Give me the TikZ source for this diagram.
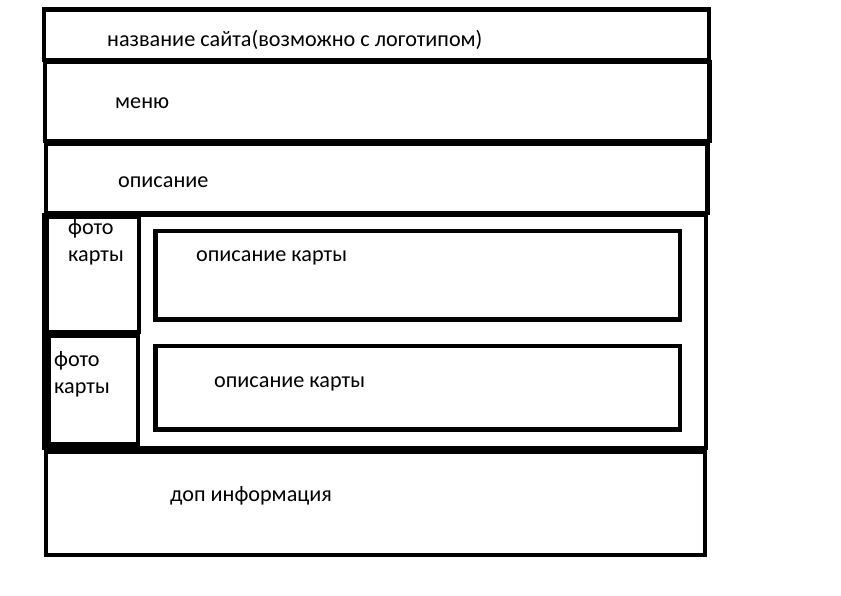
\documentclass[tikz,border=0pt]{standalone}
\usepackage{fontspec}
\setmainfont{Carlito}
\usetikzlibrary{positioning}
\begin{document}
\begin{tikzpicture}[x=1pt,y=-1pt]
% --- Layout & Styles --------------------------------------
\tikzstyle{block}=[draw=black,line width=4.5pt]
\tikzstyle{caption}=[anchor=base west,inner sep=0,font=\fontsize{22.2}{22}\selectfont]
\useasboundingbox (0,0) rectangle (841,595);
% --- Blocks -----------------------------------------------
\draw [block] (44,9.5) rectangle (709,60);
\draw [block] (45,62) rectangle (709.5,141);
\draw [block] (46,143.5) rectangle (707.5,213);
\draw [block] (44.5,215) rectangle (706,448);
\draw [block] (46.5,217) rectangle (139,332);
\draw [block] (49,336) rectangle (138,444);
\draw [block] (155.5,231) rectangle (680,319.5);
\draw [block] (155.5,346) rectangle (680,429.5);
\draw [block] (46,452) rectangle (705,555);
% --- Texts ------------------------------------------------
\node (title) [caption] at (107,46) {название сайта(возможно с логотипом)};
\node (menu) [caption] at (115,108) {меню};
\node (descr) [caption] at (118,187) {описание};
\node (photo1) [caption] at (68,234) {фото};
\node (photo1b) [caption] at (68,261) {карты};
\node (card1) [caption] at (196,261) {описание карты};
\node (photo2) [caption] at (54,366) {фото};
\node (photo2b) [caption] at (54,393) {карты};
\node (card2) [caption] at (214,387) {описание карты};
\node (extra) [caption] at (170,501) {доп информация};
\end{tikzpicture}
\end{document}
